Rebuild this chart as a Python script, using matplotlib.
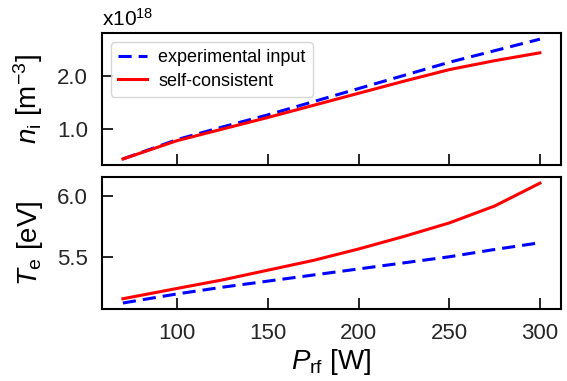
import numpy as np
import matplotlib
matplotlib.use('Agg')
import matplotlib.pyplot as plt

plt.rcParams['font.family'] = ['Liberation Sans', 'DejaVu Sans']
plt.rcParams['mathtext.fontset'] = 'custom'
plt.rcParams['mathtext.rm'] = 'Liberation Sans'
plt.rcParams['mathtext.it'] = 'Liberation Sans:italic'

# rf power [W]
P_rf = [70, 100, 125, 150, 175, 200, 225, 250, 275, 300]

# ion density [1e18 m^-3]
ni_exp = [0.43, 0.80, 1.04, 1.27, 1.52, 1.77, 2.02, 2.27, 2.49, 2.71]
ni_sc = [0.43, 0.78, 1.00, 1.22, 1.45, 1.68, 1.91, 2.13, 2.30, 2.45]

# electron temperature [eV]
Te_exp = [5.12, 5.195, 5.25, 5.30, 5.35, 5.40, 5.45, 5.50, 5.56, 5.615]
Te_sc = [5.155, 5.24, 5.31, 5.39, 5.47, 5.564, 5.667, 5.778, 5.917, 6.105]

fig = plt.figure(figsize=(5.67, 3.81), dpi=100)
ax1 = fig.add_axes([0.180, 0.567, 0.809, 0.346])
ax2 = fig.add_axes([0.180, 0.189, 0.809, 0.346])

ax1.plot(P_rf, ni_exp, '--', color='b', lw=2.2, dashes=(4.3, 2.3), label='experimental input')
ax1.plot(P_rf, ni_sc, '-', color='r', lw=2.2, label='self-consistent')
ax2.plot(P_rf, Te_exp, '--', color='b', lw=2.2, dashes=(4.3, 2.3))
ax2.plot(P_rf, Te_sc, '-', color='r', lw=2.2)

ax1.set_yticks([1.0, 2.0])
ax1.set_yticklabels(['1.0', '2.0'])
ax2.set_yticks([5.5, 6.0])
ax2.set_yticklabels(['5.5', '6.0'])
for ax in (ax1, ax2):
    ax.set_xticks([100, 150, 200, 250, 300])
    ax.tick_params(direction='in', length=8, width=1.2, labelsize=16, pad=10, labelcolor='0.15')
    for s in ax.spines.values():
        s.set_linewidth(1.5)
ax1.set_xticklabels([])
ax1.set_xlim(58.5, 311.5)
ax2.set_xlim(58.5, 311.5)

ax1.set_ylabel(r'$n_\mathrm{i}$ [m$^{-3}$]', fontsize=20)
ax2.set_ylabel(r'$T_\mathrm{e}$ [eV]', fontsize=20)
ax2.set_xlabel(r'$P_\mathrm{rf}$ [W]', fontsize=20, labelpad=2)
ax1.yaxis.set_label_coords(-0.125, 0.5)
ax2.yaxis.set_label_coords(-0.125, 0.5)

ax1.text(0.0, 1.025, r'x10$^{18}$', transform=ax1.transAxes, fontsize=15, va='bottom', ha='left')

ax1.legend(loc='upper left', fontsize=13, handlelength=1.6, borderaxespad=0.5,
           handletextpad=0.6, labelspacing=0.35, borderpad=0.4, fancybox=True, edgecolor='0.8')

fig.savefig('out.png', dpi=100)
